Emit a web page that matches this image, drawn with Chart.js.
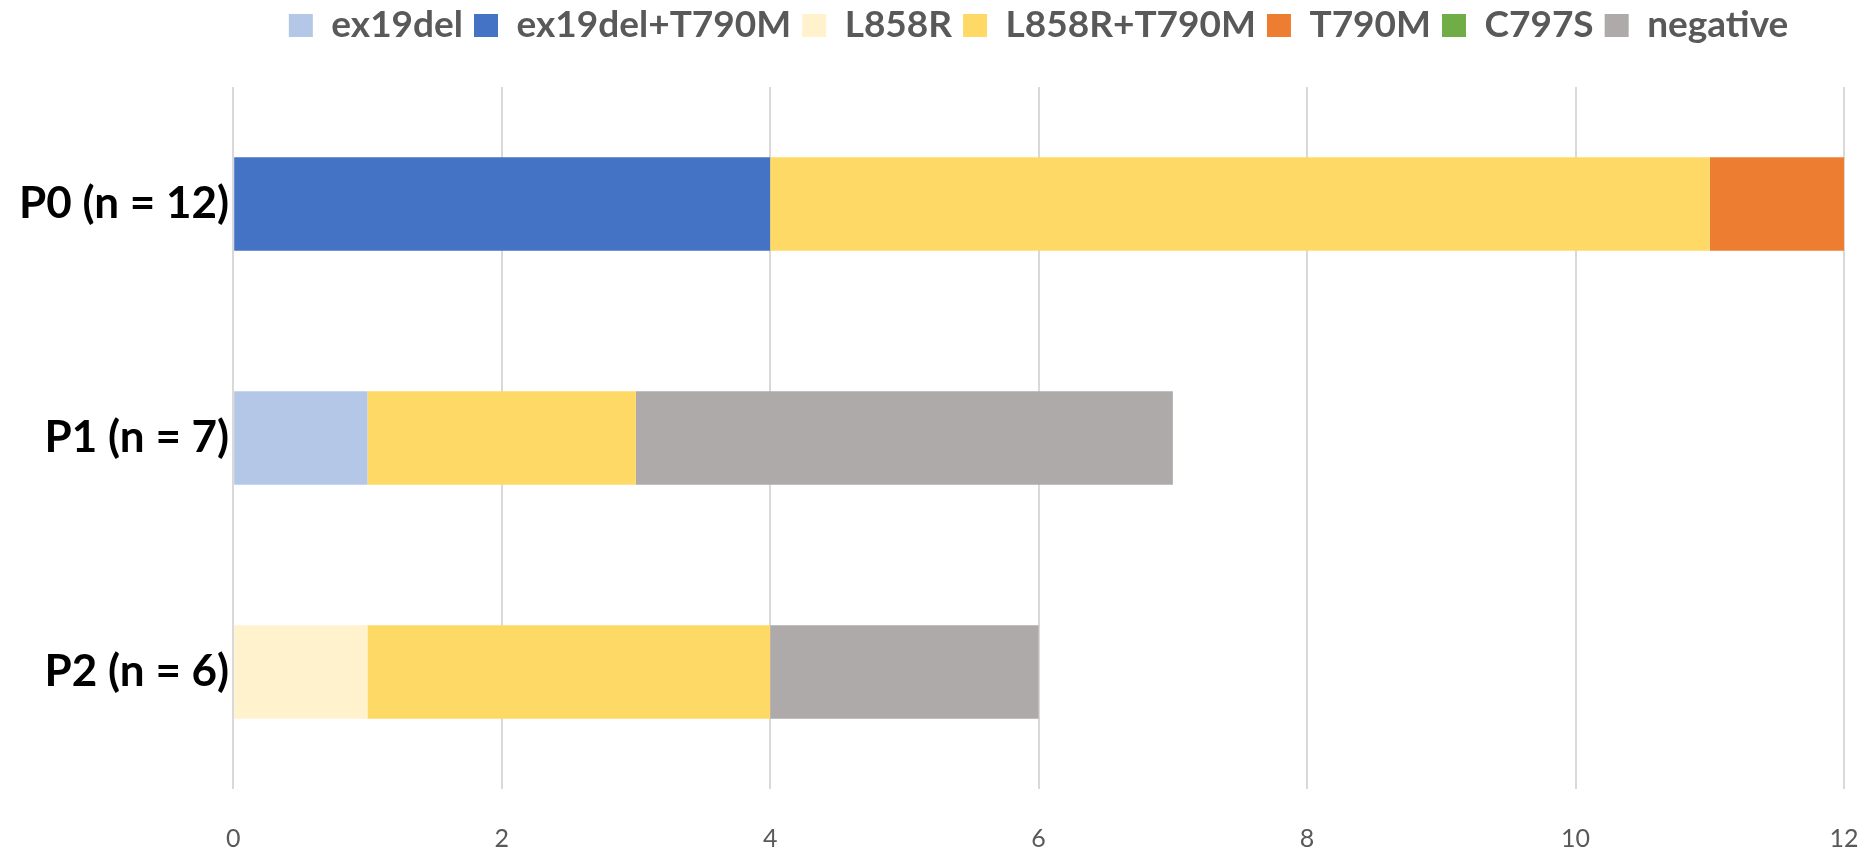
<!DOCTYPE html>
<html>
<head>
<meta charset="utf-8">
<script src="https://cdn.jsdelivr.net/npm/chart.js@4/dist/chart.umd.min.js"></script>
<style>
  html, body { margin: 0; padding: 0; background: #ffffff; }
  #wrap { width: 1876px; height: 849px; }
</style>
</head>
<body>
<div id="wrap"><canvas id="bar" width="1876" height="849"></canvas></div>
<script>
// patient groups and mutation counts
var groups = ['P0 (n = 12)', 'P1 (n = 7)', 'P2 (n = 6)'];

var ex19del      = [0, 1, 0];
var ex19delT790M = [4, 0, 0];
var L858R        = [0, 0, 1];
var L858RT790M   = [7, 2, 3];
var T790M        = [1, 0, 0];
var C797S        = [0, 0, 0];
var negative     = [0, 4, 2];

var xTicks = [0, 2, 4, 6, 8, 10, 12];

var ChartData = {
  labels: groups,
  datasets: [
    { label: 'ex19del',       data: ex19del,      backgroundColor: '#B4C7E7' },
    { label: 'ex19del+T790M', data: ex19delT790M, backgroundColor: '#4472C4' },
    { label: 'L858R',         data: L858R,        backgroundColor: '#FFF2CC' },
    { label: 'L858R+T790M',   data: L858RT790M,   backgroundColor: '#FFD966' },
    { label: 'T790M',         data: T790M,        backgroundColor: '#ED7D31' },
    { label: 'C797S',         data: C797S,        backgroundColor: '#70AD47' },
    { label: 'negative',      data: negative,     backgroundColor: '#AEAAAA' }
  ]
};

ChartData.datasets.forEach(function (ds) {
  ds.borderWidth = 0;
  ds.barPercentage = 0.4;
  ds.categoryPercentage = 1.0;
});

// legend block gets a fixed height so the plot starts lower
var legendHeight = {
  id: 'legendHeight',
  beforeInit: function (chart) {
    var fit = chart.legend.fit;
    chart.legend.fit = function () {
      fit.call(this);
      this.height = 91;
    };
  }
};

// keep the axes from reserving extra room for edge labels
function noEdgePadding(scale) {
  scale.paddingTop = 0;
  scale.paddingBottom = 0;
  scale.paddingLeft = 0;
  scale.paddingRight = 0;
}

var ChartOptions = {
  indexAxis: 'y',
  responsive: false,
  animation: false,
  layout: { padding: { left: 15, right: 32, top: -4, bottom: 0 } },
  plugins: {
    tooltip: { enabled: false },
    legend: {
      position: 'top',
      fullSize: false,
      labels: {
        boxWidth: 24,
        boxHeight: 23,
        padding: 11,
        color: '#595959',
        font: { family: 'Lato', size: 37, weight: 'bold' }
      }
    }
  },
  scales: {
    x: {
      stacked: true,
      min: 0,
      max: 12,
      afterBuildTicks: function (axis) {
        axis.ticks = xTicks.map(function (v) { return { value: v }; });
      },
      afterFit: function (scale) {
        noEdgePadding(scale);
        scale.height = 60;
      },
      grid: { color: '#D9D9D9', lineWidth: 2, drawTicks: false },
      border: { display: false },
      ticks: {
        padding: 35,
        color: '#595959',
        font: { family: 'Lato', size: 25 }
      }
    },
    y: {
      stacked: true,
      afterFit: noEdgePadding,
      grid: { display: false, drawTicks: false },
      border: { display: false },
      ticks: {
        padding: 4,
        color: '#000000',
        font: { family: 'Lato', size: 44, weight: 'bold' }
      }
    }
  }
};

window.onload = function () {
  window.myBar = new Chart(document.getElementById('bar').getContext('2d'), {
    type: 'bar',
    data: ChartData,
    options: ChartOptions,
    plugins: [legendHeight]
  });
};
</script>
</body>
</html>
